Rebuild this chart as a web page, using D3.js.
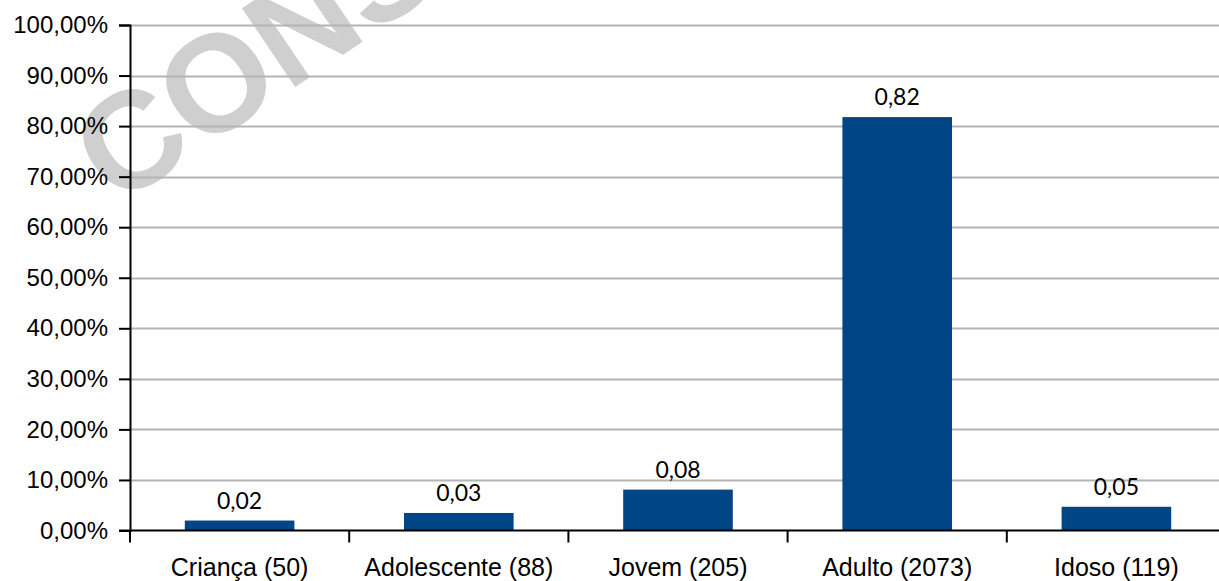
<!DOCTYPE html>
<html>
<head>
<meta charset="utf-8">
<script src="https://cdn.jsdelivr.net/npm/d3@7"></script>
<style>
  html, body { margin: 0; padding: 0; background: #fff; overflow: hidden; }
  svg { display: block; }
</style>
</head>
<body>
<svg id="chart" width="1219" height="581"></svg>
<script>
// Age groups with their counts (n shown in the category label)
const categories = ["Criança (50)", "Adolescente (88)", "Jovem (205)", "Adulto (2073)", "Idoso (119)"];
// Share of each age group in the total (fraction of 1)
const shares = [0.0197, 0.0347, 0.0809, 0.8178, 0.0469];
// Y axis tick values (fraction of 1)
const yTicks = [0, 0.1, 0.2, 0.3, 0.4, 0.5, 0.6, 0.7, 0.8, 0.9, 1.0];

const svg = d3.select("#chart");
const W = 1219, H = 581;
const plot = { left: 130, right: 1226, top: 25, bottom: 530.5 };

const x = d3.scaleBand()
  .domain(categories)
  .range([plot.left, plot.right])
  .paddingInner(0.5)
  .paddingOuter(0.25);

const y = d3.scaleLinear()
  .domain([0, 1])
  .range([plot.bottom, plot.top]);

const pctFmt = v => d3.format(".2f")(v * 100).replace(".", ",") + "%";
const valFmt = v => d3.format(".2f")(v).replace(".", ",");

// Watermark behind the plot
svg.append("text")
  .attr("transform", "translate(116,208) rotate(-34)")
  .attr("font-family", "Liberation Sans, Arial, sans-serif")
  .attr("font-weight", "bold")
  .attr("font-size", 138)
  .attr("fill", "#cfcfcf")
  .text("CONSULTA");

// Horizontal grid lines
svg.append("g")
  .selectAll("line")
  .data(yTicks.filter(d => d > 0))
  .join("line")
  .attr("x1", plot.left)
  .attr("x2", W)
  .attr("y1", d => Math.round(y(d)) + 0.5)
  .attr("y2", d => Math.round(y(d)) + 0.5)
  .attr("stroke", "#b4b4b4")
  .attr("stroke-width", 2);

// Bars
svg.append("g")
  .selectAll("rect")
  .data(shares)
  .join("rect")
  .attr("x", (d, i) => x(categories[i]))
  .attr("width", x.bandwidth())
  .attr("y", d => y(d))
  .attr("height", d => y(0) - y(d))
  .attr("fill", "#004586");

// Value labels above the bars
svg.append("g")
  .selectAll("text")
  .data(shares)
  .join("text")
  .attr("x", (d, i) => x(categories[i]) + x.bandwidth() / 2)
  .attr("y", d => y(d) - 12)
  .attr("text-anchor", "middle")
  .attr("font-family", "Lato, 'Open Sans', sans-serif")
  .attr("font-size", 23)
  .attr("fill", "#000")
  .text(d => valFmt(d));

// Y axis
const yAxis = d3.axisLeft(y)
  .tickValues(yTicks)
  .tickFormat(pctFmt)
  .tickSize(11)
  .tickPadding(11);

const gy = svg.append("g")
  .attr("transform", `translate(${plot.left},0)`)
  .call(yAxis);
gy.select(".domain").attr("stroke", "#000").attr("stroke-width", 2);
gy.selectAll(".tick line").attr("stroke", "#000").attr("stroke-width", 2);
gy.selectAll(".tick text")
  .attr("font-family", "Liberation Sans, Arial, sans-serif")
  .attr("font-size", 24)
  .attr("fill", "#000");

// X axis: ticks sit on the band boundaries
const xAxis = d3.axisBottom(x).tickSize(0).tickPadding(0);
const gx = svg.append("g")
  .attr("transform", `translate(0,${plot.bottom})`)
  .call(xAxis);
gx.select(".domain").remove();
gx.append("line")
  .attr("x1", plot.left - 11)
  .attr("x2", W)
  .attr("stroke", "#000")
  .attr("stroke-width", 2);
gx.selectAll(".tick text")
  .attr("y", 45)
  .attr("dy", 0)
  .attr("font-family", "Liberation Sans, Arial, sans-serif")
  .attr("font-size", 25)
  .attr("fill", "#000");

const bounds = categories.map(c => x(c) - x.step() * x.paddingOuter());
gx.selectAll(".boundary")
  .data(bounds)
  .join("line")
  .attr("class", "boundary")
  .attr("x1", d => d)
  .attr("x2", d => d)
  .attr("y1", 0)
  .attr("y2", 12)
  .attr("stroke", "#000")
  .attr("stroke-width", 2);
</script>
</body>
</html>
